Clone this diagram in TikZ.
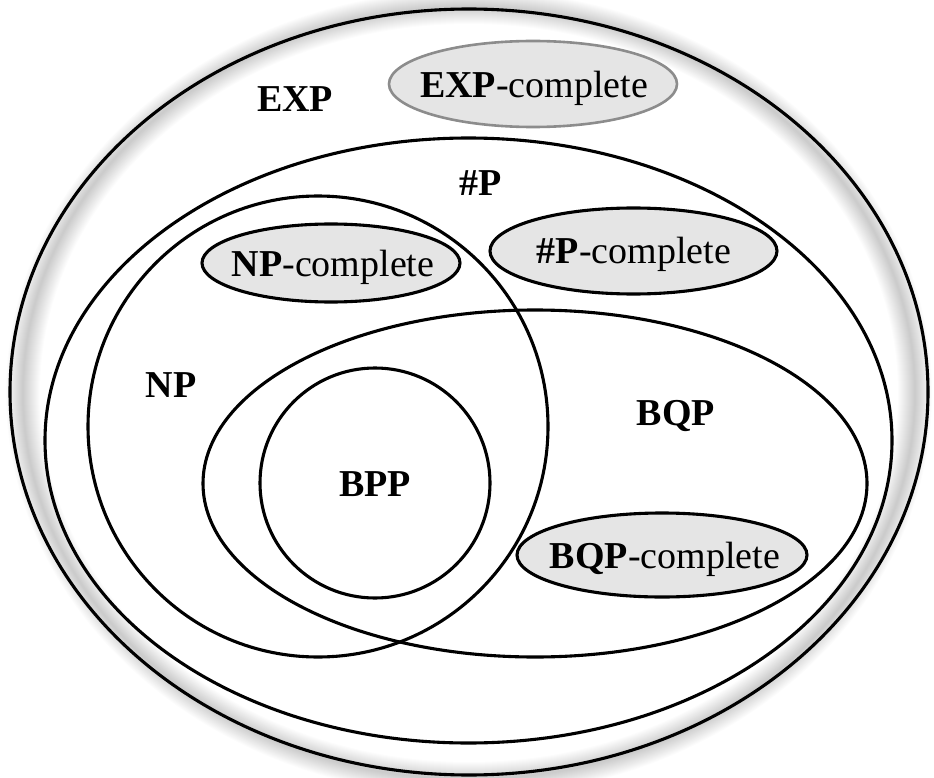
\documentclass[tikz,border=0pt]{standalone}
\usepackage{fontspec}
\setmainfont{Liberation Serif}
\begin{document}
\begin{tikzpicture}[x=1pt,y=-1pt,
  setline/.style={draw=black,line width=3.1pt},
  completebg/.style={draw=black,line width=3.1pt,fill=black!10},
  ctext/.style={inner sep=0pt,text height=25pt,text depth=0pt,font=\fontsize{38}{40}\selectfont},
  lbl/.style={anchor=base,inner sep=0pt,font=\fontsize{38}{40}\selectfont\bfseries}]
\fill[white] (0,0) rectangle (934,778);
\useasboundingbox (0,0) rectangle (934,778);
% soft shadow of the outer set
\foreach \w in {2,4,...,34}
  \draw[black,opacity=0.012,line width=\w pt] (469,393) ellipse [x radius=446, y radius=386];
% sets
\draw[setline] (469,392) ellipse [x radius=459, y radius=383];
\draw[setline] (468.5,440.5) ellipse [x radius=423.5, y radius=302.5];
\draw[setline] (535,483.5) ellipse [x radius=332, y radius=173.5];
\draw[setline] (318,426.5) ellipse [x radius=230, y radius=230.5];
\draw[setline] (375,483) circle [radius=115];
% complete classes
\draw[completebg,draw=black!45,line width=2.6pt] (533,84) ellipse [x radius=144, y radius=43];
\draw[completebg] (633.5,251) ellipse [x radius=143.5, y radius=43];
\draw[completebg] (331,263) ellipse [x radius=129, y radius=39];
\draw[completebg] (662,555) ellipse [x radius=145, y radius=42];
\node[ctext] (expc) at (534,85) {\textbf{EXP}-complete};
\node[ctext] (pc) at (634,251) {\textbf{\#P}-complete};
\node[ctext] (npc) at (333,264) {\textbf{NP}-complete};
\node[ctext] (bqpc) at (665,556) {\textbf{BQP}-complete};
% labels
\node[lbl] (exp) at (295,112) {EXP};
\node[lbl] (sp) at (481,196) {\#P};
\node[lbl] (np) at (171,397) {NP};
\node[lbl] (bqp) at (676,425) {BQP};
\node[lbl] (bpp) at (375,496) {BPP};
\end{tikzpicture}
\end{document}
